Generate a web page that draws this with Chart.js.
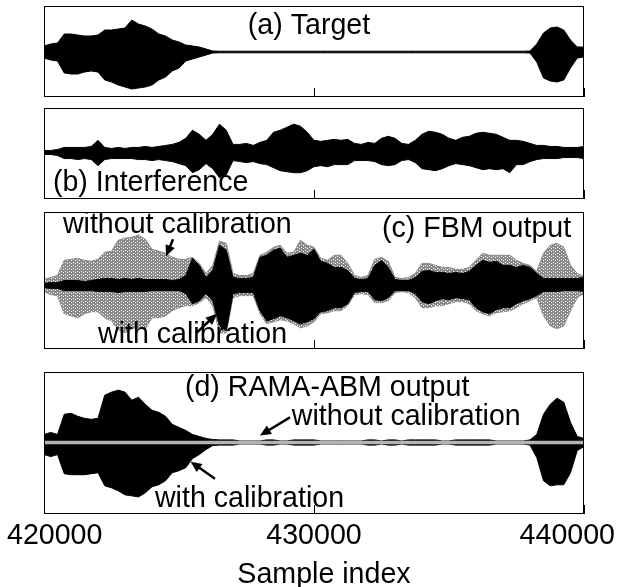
<!DOCTYPE html>
<html>
<head>
<meta charset="utf-8">
<script src="https://cdn.jsdelivr.net/npm/chart.js@4.4.1/dist/chart.umd.min.js"></script>
<style>
html, body { margin: 0; padding: 0; background: #fff; }
#fig { position: relative; width: 617px; height: 587px; overflow: hidden; }
.panel { position: absolute; left: 0; width: 617px; }
</style>
</head>
<body>
<div id="fig">
    <div class="panel" style="top:6px;height:91px"><canvas id="pa" width="617" height="91"></canvas></div>
    <div class="panel" style="top:108px;height:91px"><canvas id="pb" width="617" height="91"></canvas></div>
    <div class="panel" style="top:212px;height:137px"><canvas id="pc" width="617" height="137"></canvas></div>
    <div class="panel" style="top:372px;height:215px"><canvas id="pd" width="617" height="215"></canvas></div>
</div>
<script>
// sample index of each envelope reading (every 250 samples)
const samples = [
    420000, 420250, 420500, 420750, 421000, 421250, 421500, 421750, 422000, 422250,
    422500, 422750, 423000, 423250, 423500, 423750, 424000, 424250, 424500, 424750,
    425000, 425250, 425500, 425750, 426000, 426250, 426500, 426750, 427000, 427250,
    427500, 427750, 428000, 428250, 428500, 428750, 429000, 429250, 429500, 429750,
    430000, 430250, 430500, 430750, 431000, 431250, 431500, 431750, 432000, 432250,
    432500, 432750, 433000, 433250, 433500, 433750, 434000, 434250, 434500, 434750,
    435000, 435250, 435500, 435750, 436000, 436250, 436500, 436750, 437000, 437250,
    437500, 437750, 438000, 438250, 438500, 438750, 439000, 439250, 439500, 439750,
    440000
];
const xTicks = [420000, 430000, 440000];

// (a) target: upper / lower envelope
const targetTop = [
    6, 8, 9, 18, 18, 17, 16, 16, 17, 22,
    22, 23, 24, 32, 28, 26, 23, 18, 16, 12,
    10, 7, 6, 5, 3, 1, 0.8, 0.8, 0.8, 0.8,
    0.8, 0.8, 0.8, 0.8, 0.8, 0.8, 0.8, 0.8, 0.8, 0.8,
    0.8, 0.8, 0.8, 0.8, 0.8, 0.8, 0.8, 0.8, 0.8, 0.8,
    0.8, 0.8, 0.8, 0.8, 0.8, 0.8, 0.8, 0.8, 0.8, 0.8,
    0.8, 0.8, 0.8, 0.8, 0.8, 0.8, 0.8, 0.8, 0.8, 0.8,
    0.8, 0.8, 1, 8, 19, 24, 25, 22, 12, 5,
    5
];
const targetBot = [
    -6, -8, -9, -21, -22, -22, -20, -19, -20, -28,
    -30, -33, -35, -37, -36, -35, -33, -28, -25, -19,
    -16, -9, -7, -5, -3, -1, -0.8, -0.8, -0.8, -0.8,
    -0.8, -0.8, -0.8, -0.8, -0.8, -0.8, -0.8, -0.8, -0.8, -0.8,
    -0.8, -0.8, -0.8, -0.8, -0.8, -0.8, -0.8, -0.8, -0.8, -0.8,
    -0.8, -0.8, -0.8, -0.8, -0.8, -0.8, -0.8, -0.8, -0.8, -0.8,
    -0.8, -0.8, -0.8, -0.8, -0.8, -0.8, -0.8, -0.8, -0.8, -0.8,
    -0.8, -0.8, -1, -10, -26, -29, -30, -28, -16, -6,
    -5
];

// (b) interference
const interfTop = [
    2, 2, 3, 5, 5, 5, 5, 6, 12, 5,
    4, 5, 4, 5, 5, 6, 5, 6, 7, 8,
    10, 14, 22, 18, 12, 18, 28, 22, 8, 8,
    9, 7, 10, 12, 20, 22, 25, 28, 26, 20,
    12, 11, 12, 13, 12, 13, 9, 8, 10, 9,
    14, 16, 14, 9, 8, 12, 18, 21, 20, 18,
    14, 12, 15, 16, 19, 20, 19, 18, 15, 12,
    12, 11, 9, 7, 7, 6, 6, 5, 5, 5,
    6
];
const interfBot = [
    -2, -2, -3, -6, -6, -7, -6, -7, -13, -7,
    -6, -6, -6, -6, -7, -7, -8, -7, -8, -9,
    -11, -13, -20, -17, -11, -16, -25, -22, -8, -9,
    -10, -9, -11, -12, -15, -18, -19, -20, -20, -18,
    -14, -13, -14, -12, -12, -12, -8, -8, -8, -9,
    -12, -13, -12, -8, -7, -10, -16, -17, -18, -16,
    -13, -11, -12, -13, -15, -17, -16, -17, -16, -20,
    -12, -12, -9, -7, -6, -6, -6, -5, -5, -5,
    -6
];

// (c) FBM output, with calibration (black)
const fbmCalTop = [
    2, 3, 3, 5, 5, 5, 4, 5, 6, 7,
    7, 6, 7, 6, 7, 6, 6, 6, 6, 5,
    6, 10, 27, 20, 8, 15, 40, 35, 8, 7,
    7, 8, 28, 30, 35, 37, 28, 30, 32, 30,
    36, 24, 22, 18, 18, 15, 7, 6, 7, 20,
    25, 18, 6, 5, 5, 8, 14, 15, 13, 13,
    12, 13, 12, 14, 20, 25, 23, 24, 20, 20,
    18, 20, 18, 12, 7, 7, 7, 7, 7, 7,
    8
];
const fbmCalBot = [
    -2, -3, -3, -5, -5, -5, -5, -5, -6, -6,
    -6, -7, -6, -6, -6, -6, -5, -5, -5, -5,
    -5, -8, -18, -15, -8, -15, -40, -45, -8, -7,
    -7, -7, -25, -35, -33, -30, -32, -35, -38, -36,
    -33, -26, -25, -22, -22, -18, -7, -6, -6, -14,
    -15, -12, -5, -5, -5, -8, -16, -18, -15, -13,
    -14, -12, -13, -14, -22, -26, -28, -24, -22, -22,
    -18, -15, -13, -10, -6, -6, -6, -5, -5, -5,
    -6
];
// (c) FBM output, without calibration (grey)
const fbmRawTop = [
    6, 8, 10, 25, 26, 27, 25, 24, 26, 33,
    34, 45, 47, 48, 50, 46, 36, 34, 32, 28,
    26, 26, 28, 22, 12, 20, 44, 42, 12, 10,
    10, 12, 30, 33, 38, 40, 32, 33, 45, 40,
    38, 27, 25, 30, 30, 22, 10, 8, 10, 26,
    28, 24, 8, 7, 8, 12, 22, 22, 20, 18,
    18, 16, 16, 18, 25, 32, 30, 30, 30, 30,
    25, 22, 20, 14, 32, 40, 42, 38, 20, 12,
    9
];
const fbmRawBot = [
    -6, -9, -10, -28, -30, -32, -28, -26, -26, -32,
    -35, -44, -47, -43, -42, -43, -32, -32, -30, -25,
    -22, -20, -20, -17, -12, -20, -47, -47, -12, -10,
    -10, -10, -28, -38, -36, -34, -35, -38, -42, -40,
    -36, -28, -27, -25, -25, -20, -9, -8, -9, -17,
    -17, -15, -7, -6, -7, -12, -22, -22, -20, -20,
    -18, -16, -16, -18, -25, -28, -30, -27, -26, -25,
    -22, -18, -15, -12, -30, -40, -43, -40, -25, -12,
    -8
];

// (d) RAMA-ABM output, with calibration (black)
const ramaCalTop = [
    8, 10, 8, 28, 29, 26, 24, 23, 24, 47,
    50, 52, 50, 42, 45, 38, 32, 30, 26, 18,
    15, 12, 8, 6, 4, 3, 2.6, 2.6, 2.6, 1.5,
    1.5, 1.5, 1.5, 2.6, 2.6, 1.5, 1.5, 2.6, 2.6, 2.6,
    2.6, 1.5, 1.5, 1.5, 1.5, 1.5, 1.5, 1.5, 2.6, 2.6,
    1.5, 2.6, 2.6, 1.5, 2.6, 2.6, 2.6, 2.6, 2.6, 1.5,
    1.5, 2.6, 2.6, 2.6, 2.6, 2.6, 2.6, 1.5, 1.5, 1.5,
    1.5, 1.5, 2.6, 8, 28, 38, 44, 40, 20, 6,
    4
];
const ramaCalBot = [
    -12, -14, -12, -31, -32, -32, -32, -31, -30, -43,
    -45, -48, -52, -53, -54, -50, -44, -42, -38, -30,
    -28, -25, -16, -12, -7, -3, -2.6, -2.6, -2.6, -1.5,
    -1.5, -1.5, -1.5, -2.6, -2.6, -1.5, -1.5, -2.6, -2.6, -2.6,
    -2.6, -1.5, -1.5, -1.5, -1.5, -1.5, -1.5, -1.5, -2.6, -2.6,
    -1.5, -2.6, -2.6, -1.5, -2.6, -2.6, -2.6, -2.6, -2.6, -1.5,
    -1.5, -2.6, -2.6, -2.6, -2.6, -2.6, -2.6, -1.5, -1.5, -1.5,
    -1.5, -1.5, -2.6, -15, -38, -43, -42, -42, -30, -8,
    -4
];
// (d) RAMA-ABM output, without calibration (grey, flat)
const ramaRawX = [420000, 440000];
const ramaRawY = [0, 0];

// annotation texts, anchored in (sample, amplitude) of each panel
const notesA = [{text: '(a) Target', x: 427550, y: 18}];
const notesB = [{text: '(b) Interference', x: 420330, y: -38}];
const notesC = [
    {text: 'without calibration', x: 420700, y: 52},
    {text: '(c) FBM output', x: 432520, y: 48},
    {text: 'with calibration', x: 422000, y: -57}
];
const notesD = [
    {text: '(d) RAMA-ABM output', x: 425220, y: 46},
    {text: 'without calibration', x: 429180, y: 17},
    {text: 'with calibration', x: 424110, y: -64}
];
const arrowsC = [
    {from: [424780, 46], to: [424520, 29]},
    {from: [425650, -47], to: [426400, -28]}
];
const arrowsD = [
    {from: [429110, 25], to: [428000, 7]},
    {from: [426330, -36], to: [425430, -19]}
];

const FONT = '28.6px "Liberation Sans", Arial, Helvetica, sans-serif';

function greyDots() {
    const c = document.createElement('canvas');
    c.width = 4;
    c.height = 3;
    const g = c.getContext('2d');
    g.fillStyle = '#8a8a8a';
    g.fillRect(0, 0, 4, 3);
    g.fillStyle = '#ffffff';
    g.fillRect(3, 0, 1, 1);
    g.fillRect(1, 2, 1, 1);
    return g.createPattern(c, 'repeat');
}

function drawArrow(ctx, x0, y0, x1, y1) {
    const ang = Math.atan2(y1 - y0, x1 - x0),
        len = 11,
        half = 5,
        c = Math.cos(ang),
        s = Math.sin(ang);

    ctx.lineWidth = 2.5;
    ctx.beginPath();
    ctx.moveTo(x0, y0);
    ctx.lineTo(x1 - len * 0.7 * c, y1 - len * 0.7 * s);
    ctx.stroke();
    ctx.beginPath();
    ctx.moveTo(x1, y1);
    ctx.lineTo(x1 - len * c + half * s, y1 - len * s - half * c);
    ctx.lineTo(x1 - len * c - half * s, y1 - len * s + half * c);
    ctx.closePath();
    ctx.fill();
}

const waveFrame = {
    id: 'waveFrame',
    afterDatasetsDraw(chart, args, opts) {
        const {ctx, chartArea: area, scales: {x, y}} = chart;

        ctx.save();
        ctx.strokeStyle = '#000';
        ctx.fillStyle = '#000';
        ctx.lineWidth = 1;

        // inner tick marks on the bottom edge
        for (const t of xTicks) {
            const px = Math.round(x.getPixelForValue(t)) + 0.5;
            ctx.beginPath();
            ctx.moveTo(px, area.bottom);
            ctx.lineTo(px, area.bottom - 9);
            ctx.stroke();
        }
        ctx.strokeRect(area.left + 0.5, area.top + 0.5, area.right - area.left - 1, area.bottom - area.top - 1);

        ctx.font = FONT;
        ctx.textBaseline = 'alphabetic';
        ctx.textAlign = 'left';
        for (const n of opts.notes || []) {
            ctx.fillText(n.text, x.getPixelForValue(n.x), y.getPixelForValue(n.y));
        }
        for (const a of opts.arrows || []) {
            drawArrow(ctx,
                x.getPixelForValue(a.from[0]), y.getPixelForValue(a.from[1]),
                x.getPixelForValue(a.to[0]), y.getPixelForValue(a.to[1]));
        }

        if (opts.axis) {
            for (const t of xTicks) {
                const label = String(t),
                    w = ctx.measureText(label).width,
                    left = Math.min(Math.max(x.getPixelForValue(t) - w / 2, 7), chart.width - 2 - w);
                ctx.fillText(label, left, area.bottom + 30);
            }
            ctx.textAlign = 'center';
            ctx.fillText(opts.axis, (area.left + area.right) / 2 + 10, area.bottom + 69);
        }
        ctx.restore();
    }
};

function envelope(top, bot, line, fill, order) {
    return [
        {
            data: samples.map((s, i) => ({x: s, y: top[i]})),
            borderColor: line,
            backgroundColor: fill,
            borderWidth: 1,
            pointRadius: 0,
            tension: 0,
            fill: '+1',
            order
        },
        {
            data: samples.map((s, i) => ({x: s, y: bot[i]})),
            borderColor: line,
            borderWidth: 1,
            pointRadius: 0,
            tension: 0,
            fill: false,
            order
        }
    ];
}

function makePanel(id, datasets, yMin, yMax, frame, padBottom) {
    return new Chart(document.getElementById(id), {
        type: 'line',
        data: {datasets},
        options: {
            responsive: false,
            animation: false,
            devicePixelRatio: 1,
            layout: {padding: {left: 44, right: 33, top: 0, bottom: padBottom || 0}},
            plugins: {
                legend: {display: false},
                tooltip: {enabled: false},
                waveFrame: frame
            },
            scales: {
                x: {type: 'linear', min: 420000, max: 440000, display: false},
                y: {min: yMin, max: yMax, display: false}
            }
        },
        plugins: [waveFrame]
    });
}

const grey = greyDots();

makePanel('pa', envelope(targetTop, targetBot, '#000', '#000', 0), -45, 46, {notes: notesA});
makePanel('pb', envelope(interfTop, interfBot, '#000', '#000', 0), -46, 44, {notes: notesB});
makePanel('pc', [
    ...envelope(fbmCalTop, fbmCalBot, '#000', '#000', 0),
    ...envelope(fbmRawTop, fbmRawBot, '#8a8a8a', grey, 1)
], -63, 73, {notes: notesC, arrows: arrowsC});
makePanel('pd', [
    {
        data: ramaRawX.map((s, i) => ({x: s, y: ramaRawY[i]})),
        borderColor: '#b4b4b4',
        borderWidth: 3.5,
        pointRadius: 0,
        fill: false,
        order: 0
    },
    ...envelope(ramaCalTop, ramaCalBot, '#000', '#000', 1)
], -71, 70, {notes: notesD, arrows: arrowsD, axis: 'Sample index'}, 73);
</script>
</body>
</html>
